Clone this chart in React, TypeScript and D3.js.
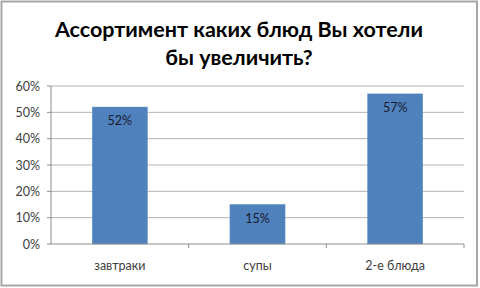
import React from "react";
import * as d3 from "d3";

const titleLines = ["Ассортимент каких блюд Вы хотели", "бы увеличить?"];
const categories = ["завтраки", "супы", "2-е блюда"];
const values = [0.52, 0.15, 0.57];
const yTicks = [0, 0.1, 0.2, 0.3, 0.4, 0.5, 0.6];

const W = 480;
const H = 288;
const left = 51;
const right = 464;
const top = 86;
const bottom = 244;

export default function App() {
  const x = d3.scaleBand<string>().domain(categories).range([left, right]).paddingInner(0.6).paddingOuter(0.3);
  const xb = d3.scaleBand<string>().domain(categories).range([left, right]);
  const y = d3.scaleLinear().domain([0, 0.6]).range([bottom, top]);
  const fmt = d3.format(".0%");
  const font = "Lato, 'Open Sans', sans-serif";
  return (
    <svg width={W} height={H} style={{ position: "absolute", left: 0, top: 0, background: "#fff" }}>
      <rect x={1.5} y={1.5} width={475.5} height={284} fill="#fff" stroke="#a6a6a6" strokeWidth={2} />
      {titleLines.map((t, i) => (
        <text key={i} x={239} y={37 + i * 28} textAnchor="middle" fontFamily={font} fontWeight="bold" fontSize={21.5} fill="#000">
          {t}
        </text>
      ))}
      {yTicks.map((t) => (
        <g key={t}>
          {t > 0 && <line x1={left} x2={right} y1={y(t)} y2={y(t)} stroke="#b3b3b3" strokeWidth={1} />}
          <line x1={left - 4} x2={left} y1={y(t)} y2={y(t)} stroke="#8c8c8c" />
          <text x={40} y={y(t) + 4.5} textAnchor="end" fontFamily={font} fontSize={12.5} fill="#404040">
            {fmt(t)}
          </text>
        </g>
      ))}
      {categories.map((c, i) => (
        <g key={c}>
          <rect x={x(c)} y={y(values[i])} width={x.bandwidth()} height={bottom - y(values[i])} fill="#4f81bd" stroke="#5b8cc6" strokeWidth={0.5} />
          <text x={x(c)! + x.bandwidth() / 2} y={y(values[i]) + 18} textAnchor="middle" fontFamily={font} fontSize={12.5} fill="#1a1a2e">
            {fmt(values[i])}
          </text>
          <text x={xb(c)! + xb.bandwidth() / 2} y={270} textAnchor="middle" fontFamily={font} fontSize={12.5} fill="#404040">
            {c}
          </text>
          <line x1={xb(c)! + xb.bandwidth()} x2={xb(c)! + xb.bandwidth()} y1={bottom} y2={bottom + 4} stroke="#8c8c8c" />
        </g>
      ))}
      <line x1={left} x2={left} y1={top} y2={bottom} stroke="#8c8c8c" />
      <line x1={left} x2={right} y1={bottom} y2={bottom} stroke="#8c8c8c" />
    </svg>
  );
}
